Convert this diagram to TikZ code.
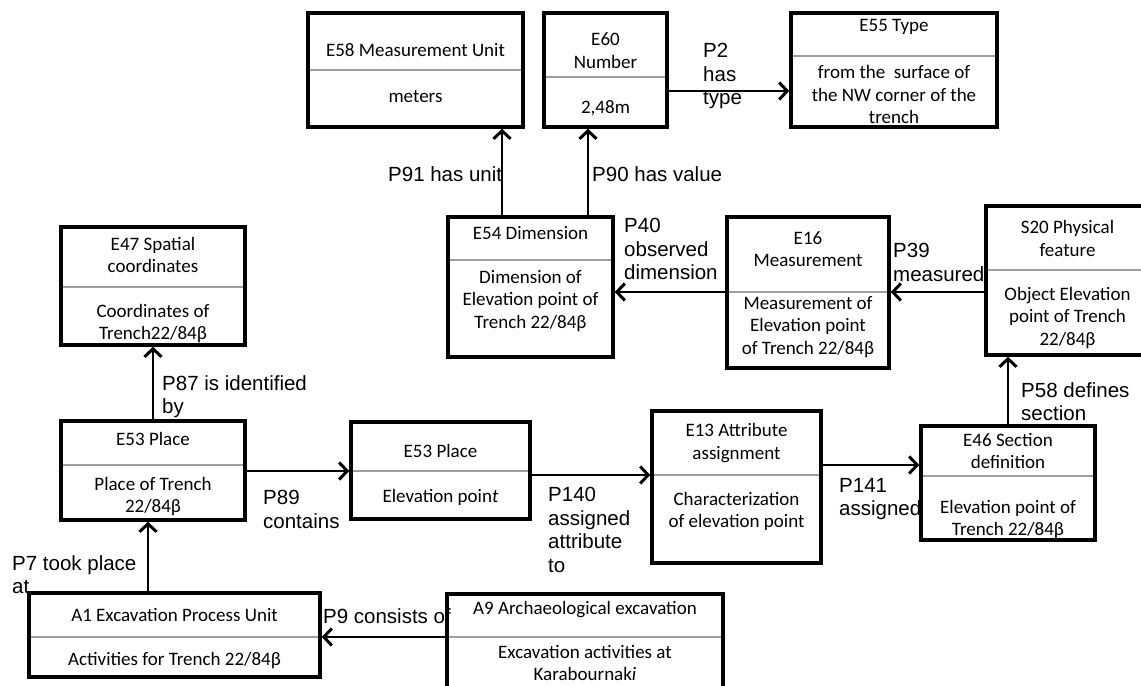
\documentclass[tikz,border=0pt]{standalone}
\usepackage{fontspec}
\setmainfont{Carlito}
\newfontfamily\propfont{Liberation Sans}
\usetikzlibrary{arrows.meta,fit}

\begin{document}
\begin{tikzpicture}[x=1bp,y=-1bp,
  crm/.style={draw,line width=3.5bp,inner sep=0pt},
  split/.style={draw=gray!75,line width=1.2bp},
  ctext/.style={align=center,inner sep=0pt,font=\fontsize{19bp}{22.5bp}\selectfont},
  prop/.style={line width=1.2bp,-{Straight Barb[length=8bp,width=17bp,line width=3bp]}},
  plabel/.style={anchor=north west,align=left,inner sep=0pt,font=\propfont\fontsize{20.5bp}{23.5bp}\selectfont}]
\useasboundingbox (0,0) rectangle (1141,686);

% top row
\draw[split] (308,70) -- (523,70);
\node (E58) [crm,fit={(308,13) (523,127)}] {};
\node (E58t) [ctext] at (415.5,50) {E58 Measurement Unit};
\node (E58b) [ctext] at (415.5,97) {meters};

\draw[split] (544,77) -- (667,77);
\node (E60) [crm,fit={(544,13) (667,127)}] {};
\node (E60t) [ctext] at (605.5,50.5) {E60\\Number};
\node (E60b) [ctext] at (605.5,108) {2,48m};

\draw[split] (791,56) -- (997,56);
\node (E55) [crm,fit={(791,13) (997,127)}] {};
\node (E55t) [ctext] at (894,27) {E55 Type};
\node (E55b) [ctext] at (894,94.5) {from the\ \ surface of\\the NW corner of the\\trench};

% middle row
\draw[split] (61,287) -- (245,287);
\node (E47) [crm,fit={(61,227) (245,345)}] {};
\node (E47t) [ctext] at (153,255) {E47 Spatial\\coordinates};
\node (E47b) [ctext] at (153,323.5) {Coordinates of\\Trench22/84β};

\draw[split] (448,260) -- (613,260);
\node (E54) [crm,fit={(448,217) (613,357)}] {};
\node (E54t) [ctext] at (530.5,233) {E54 Dimension};
\node (E54b) [ctext] at (530.5,301) {Dimension of\\Elevation point of\\Trench 22/84β};

\draw[split] (727,292) -- (889,292);
\node (E16) [crm,fit={(727,217) (889,368)}] {};
\node (E16t) [ctext] at (808,249) {E16\\Measurement};
\node (E16b) [ctext] at (808,327) {Measurement of\\Elevation point\\of Trench 22/84β};

\draw[split] (986,270) -- (1149,270);
\node (S20) [crm,fit={(986,206) (1149,355)}] {};
\node (S20t) [ctext] at (1067.5,238.5) {S20 Physical\\feature};
\node (S20b) [ctext] at (1067.5,318) {Object Elevation\\point of Trench\\22/84β};

% lower row
\draw[split] (61,465) -- (245,465);
\node (E53a) [crm,fit={(61,421) (245,520)}] {};
\node (E53at) [ctext] at (153,439) {E53 Place};
\node (E53ab) [ctext] at (153,496.5) {Place of Trench\\22/84β};

\draw[split] (351,471) -- (530,471);
\node (E53b) [crm,fit={(351,422) (530,519)}] {};
\node (E53bt) [ctext] at (440.5,451) {E53 Place};
\node (E53bb) [ctext] at (440.5,497) {Elevation poin\textit{t}};

\draw[split] (652,475) -- (821,475);
\node (E13) [crm,fit={(652,411) (821,563)}] {};
\node (E13t) [ctext] at (736.5,443) {E13 Attribute\\assignment};
\node (E13b) [ctext] at (736.5,511.5) {Characterization\\of elevation point};

\draw[split] (921,476) -- (1095,476);
\node (E46) [crm,fit={(921,426) (1095,540)}] {};
\node (E46t) [ctext] at (1008,451) {E46 Section\\definition};
\node (E46b) [ctext] at (1008,519.5) {Elevation point of\\Trench 22/84β};

% bottom row
\draw[split] (29,637) -- (320,637);
\node (A1) [crm,fit={(29,593) (320,677)}] {};
\node (A1t) [ctext] at (174.5,615) {A1 Excavation Process Unit};
\node (A1b) [ctext] at (174.5,661) {Activities for Trench 22/84β};

\draw[split] (447,637) -- (723,637);
\node (A9) [crm,fit={(447,594) (723,692)}] {};
\node (A9t) [ctext] at (585,610) {A9 Archaeological excavation};
\node (A9b) [ctext] at (585,663) {Excavation activities at\\Karabournak\textit{i}};

% properties
\draw[prop] (E60.east |- 0,91) -- (E55.west |- 0,91);
\draw[prop] (E54.north -| 502,0) -- (E58.south -| 502,0);
\draw[prop] (E54.north -| 588,0) -- (E60.south -| 588,0);
\draw[prop] (E16.west |- 0,292) -- (E54.east |- 0,292);
\draw[prop] (S20.west |- 0,292) -- (E16.east |- 0,292);
\draw[prop] (E46.north -| 1008,0) -- (S20.south -| 1008,0);
\draw[prop] (E53a.north -| 153,0) -- (E47.south -| 153,0);
\draw[prop] (E53a.east |- 0,471) -- (E53b.west |- 0,471);
\draw[prop] (E53b.east |- 0,475) -- (E13.west |- 0,475);
\draw[prop] (E13.east |- 0,465) -- (E46.west |- 0,465);
\draw[prop] (A1.north -| 148,0) -- (E53a.south -| 148,0);
\draw[prop] (A9.west |- 0,637) -- (A1.east |- 0,637);

\node (P2) [plabel] at (703,43) {P2\\has\\type};
\node (P91) [plabel] at (388,166) {P91 has unit};
\node (P90) [plabel] at (592,166) {P90 has value};
\node (P40) [plabel] at (624,218) {P40\\observed\\dimension};
\node (P39) [plabel] at (893,243) {P39\\measured};
\node (P58) [plabel] at (1021,382) {P58 defines\\section};
\node (P87) [plabel] at (162,375) {P87 is identified\\by};
\node (P89) [plabel] at (263,490) {P89\\contains};
\node (P140) [plabel] at (548,487) {P140\\assigned\\attribute\\to};
\node (P141) [plabel] at (839,478) {P141\\assigned};
\node (P7) [plabel] at (12,555) {P7 took place\\at};
\node (P9) [plabel] at (323,608) {P9 consists of};
\end{tikzpicture}
\end{document}
